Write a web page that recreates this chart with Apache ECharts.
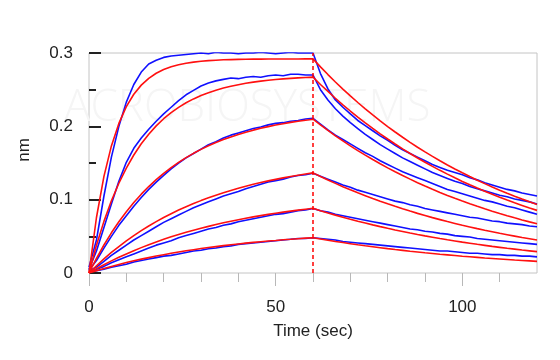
<!DOCTYPE html>
<html><head><meta charset="utf-8">
<script src="https://cdn.jsdelivr.net/npm/echarts@6/dist/echarts.min.js"></script>
<style>html,body{margin:0;padding:0;background:#fff}#c{width:560px;height:360px}</style>
</head><body><div id="c"></div>
<script>
var times = [0,2,4,6,8,10,12,14,16,18,20,22,24,26,28,30,32,34,36,38,40,42,44,46,48,50,52,54,56,58,60,
62,64,66,68,70,72,74,76,78,80,82,84,86,88,90,92,94,96,98,100,102,104,106,108,110,112,114,116,118,120];
var xMajorTicks = [0,50,100];
var xMinorTicks = [10,20,30,40,60,70,80,90,110];
var yTicks = [0,0.1,0.2,0.3];
var dissociationStart = 60;

var blue1 = [0.008,0.045,0.105,0.158,0.200,0.233,0.257,0.274,0.285,0.290,0.294,0.296,0.297,0.298,0.299,0.300,0.299,0.301,0.300,0.300,0.299,0.300,0.300,0.301,0.300,0.299,0.300,0.301,0.300,0.300,0.300,
0.272,0.251,0.236,0.226,0.217,0.208,0.201,0.194,0.187,0.181,0.174,0.168,0.163,0.158,0.153,0.148,0.144,0.140,0.137,0.134,0.130,0.127,0.123,0.120,0.117,0.114,0.112,0.109,0.107,0.105];
var red1 = [0,0.0757,0.1318,0.1733,0.2040,0.2268,0.2437,0.2562,0.2655,0.2724,0.2775,0.2812,0.2840,0.2861,0.2876,0.2888,0.2896,0.2902,0.2907,0.2910,0.2913,0.2915,0.2916,0.2917,0.2918,0.2918,0.2919,0.2919,0.2919,0.2920,0.2920,
0.2811,0.2706,0.2605,0.2508,0.2415,0.2325,0.2238,0.2155,0.2074,0.1997,0.1923,0.1851,0.1782,0.1715,0.1651,0.1590,0.1530,0.1473,0.1419,0.1366,0.1315,0.1266,0.1219,0.1173,0.1129,0.1087,0.1047,0.1008,0.0970,0.0934];
var blue2 = [0.005,0.030,0.062,0.094,0.125,0.151,0.170,0.184,0.196,0.207,0.217,0.226,0.235,0.243,0.249,0.255,0.259,0.262,0.264,0.266,0.265,0.267,0.268,0.267,0.269,0.270,0.269,0.271,0.271,0.270,0.270,
0.250,0.236,0.224,0.214,0.205,0.197,0.189,0.182,0.175,0.169,0.163,0.157,0.152,0.147,0.142,0.137,0.133,0.129,0.125,0.122,0.118,0.115,0.112,0.109,0.106,0.104,0.101,0.099,0.097,0.094];
var red2 = [0,0.0379,0.0704,0.0984,0.1224,0.1431,0.1609,0.1762,0.1893,0.2006,0.2104,0.2187,0.2259,0.2321,0.2374,0.2420,0.2459,0.2493,0.2522,0.2547,0.2568,0.2587,0.2603,0.2616,0.2628,0.2638,0.2647,0.2654,0.2661,0.2666,0.2671,
0.2571,0.2476,0.2383,0.2294,0.2209,0.2126,0.2047,0.1971,0.1897,0.1827,0.1759,0.1693,0.1630,0.1569,0.1510,0.1454,0.1400,0.1348,0.1298,0.1249,0.1203,0.1158,0.1115,0.1073,0.1033,0.0994,0.0957,0.0922,0.0887,0.0854];
var blue3 = [0.004,0.017,0.034,0.050,0.065,0.078,0.091,0.103,0.114,0.124,0.133,0.142,0.150,0.157,0.163,0.169,0.175,0.179,0.184,0.188,0.191,0.194,0.197,0.199,0.202,0.204,0.205,0.207,0.208,0.210,0.211,
0.203,0.195,0.188,0.182,0.176,0.170,0.164,0.159,0.153,0.148,0.143,0.138,0.134,0.130,0.126,0.122,0.118,0.114,0.111,0.108,0.105,0.102,0.099,0.097,0.094,0.091,0.089,0.086,0.083,0.080];
var red3 = [0,0.0200,0.0382,0.0548,0.0699,0.0836,0.0961,0.1075,0.1179,0.1273,0.1359,0.1437,0.1508,0.1573,0.1632,0.1686,0.1734,0.1779,0.1819,0.1856,0.1890,0.1920,0.1948,0.1973,0.1996,0.2017,0.2036,0.2054,0.2070,0.2084,0.2097,
0.2019,0.1944,0.1871,0.1801,0.1734,0.1669,0.1607,0.1547,0.1490,0.1434,0.1381,0.1329,0.1280,0.1232,0.1186,0.1142,0.1099,0.1058,0.1019,0.0981,0.0944,0.0909,0.0875,0.0842,0.0811,0.0781,0.0752,0.0724,0.0697,0.0671];
var blue4 = [0.003,0.008,0.016,0.024,0.031,0.038,0.045,0.051,0.057,0.063,0.069,0.074,0.079,0.084,0.089,0.093,0.097,0.101,0.105,0.108,0.111,0.115,0.118,0.121,0.124,0.126,0.128,0.131,0.133,0.134,0.136,
0.132,0.128,0.124,0.120,0.117,0.113,0.110,0.107,0.104,0.101,0.098,0.096,0.093,0.091,0.088,0.086,0.084,0.082,0.080,0.078,0.076,0.075,0.073,0.071,0.070,0.068,0.067,0.066,0.064,0.063];
var red4 = [0,0.0099,0.0192,0.0280,0.0361,0.0438,0.0510,0.0578,0.0641,0.0701,0.0756,0.0809,0.0858,0.0904,0.0947,0.0987,0.1025,0.1061,0.1094,0.1126,0.1155,0.1183,0.1209,0.1233,0.1256,0.1277,0.1297,0.1316,0.1333,0.1350,0.1365,
0.1315,0.1268,0.1222,0.1177,0.1134,0.1093,0.1054,0.1015,0.0978,0.0943,0.0909,0.0876,0.0844,0.0813,0.0784,0.0755,0.0728,0.0701,0.0676,0.0651,0.0628,0.0605,0.0583,0.0562,0.0541,0.0522,0.0503,0.0484,0.0467,0.0450];
var blue5 = [0.002,0.005,0.009,0.014,0.018,0.022,0.026,0.030,0.034,0.038,0.041,0.044,0.048,0.051,0.054,0.057,0.060,0.062,0.065,0.067,0.070,0.072,0.074,0.076,0.078,0.080,0.081,0.083,0.085,0.086,0.088,
0.085,0.083,0.080,0.078,0.076,0.074,0.072,0.070,0.068,0.066,0.064,0.062,0.060,0.059,0.057,0.056,0.054,0.053,0.051,0.050,0.049,0.047,0.046,0.045,0.044,0.043,0.042,0.041,0.040,0.039];
var red5 = [0,0.0058,0.0113,0.0165,0.0214,0.0260,0.0304,0.0346,0.0386,0.0423,0.0459,0.0493,0.0525,0.0555,0.0584,0.0611,0.0636,0.0661,0.0684,0.0706,0.0726,0.0746,0.0765,0.0782,0.0799,0.0815,0.0830,0.0844,0.0857,0.0870,0.0882,
0.0850,0.0819,0.0789,0.0761,0.0733,0.0706,0.0681,0.0656,0.0632,0.0609,0.0587,0.0566,0.0545,0.0525,0.0506,0.0488,0.0470,0.0453,0.0437,0.0421,0.0406,0.0391,0.0377,0.0363,0.0350,0.0337,0.0325,0.0313,0.0302,0.0291];
var blue6 = [0.002,0.003,0.005,0.008,0.010,0.012,0.015,0.017,0.019,0.021,0.023,0.024,0.026,0.028,0.030,0.031,0.033,0.034,0.036,0.037,0.039,0.040,0.041,0.042,0.043,0.044,0.045,0.046,0.047,0.047,0.048,
0.047,0.046,0.045,0.043,0.042,0.041,0.040,0.039,0.038,0.037,0.036,0.035,0.034,0.033,0.032,0.031,0.030,0.030,0.029,0.028,0.027,0.027,0.026,0.025,0.025,0.024,0.024,0.023,0.023,0.022];
var red6 = [0,0.0032,0.0061,0.0090,0.0117,0.0142,0.0166,0.0189,0.0210,0.0231,0.0250,0.0269,0.0286,0.0303,0.0318,0.0333,0.0347,0.0360,0.0373,0.0385,0.0396,0.0407,0.0417,0.0427,0.0436,0.0444,0.0453,0.0460,0.0468,0.0475,0.0481,
0.0464,0.0447,0.0430,0.0415,0.0400,0.0385,0.0371,0.0358,0.0345,0.0332,0.0320,0.0309,0.0297,0.0287,0.0276,0.0266,0.0256,0.0247,0.0238,0.0229,0.0221,0.0213,0.0205,0.0198,0.0191,0.0184,0.0177,0.0171,0.0165,0.0159];

var blueSets = [blue1, blue2, blue3, blue4, blue5, blue6];
var redSets = [red1, red2, red3, red4, red5, red6];

function pairs(vals){ return times.map(function(t,i){ return [t, vals[i]]; }); }

var FONT = '"Liberation Sans", Arial, sans-serif';
var series = [];
blueSets.forEach(function(v){
  series.push({type:'line', xAxisIndex:0, yAxisIndex:0, data:pairs(v), showSymbol:false, symbol:'none',
    lineStyle:{color:'#1010ff', width:1.6}, z:3});
});
redSets.forEach(function(v){
  series.push({type:'line', xAxisIndex:0, yAxisIndex:0, data:pairs(v), showSymbol:false, symbol:'none',
    lineStyle:{color:'#ff1010', width:1.6}, z:4});
});
series.push({type:'line', xAxisIndex:0, yAxisIndex:0, data:[], z:5,
  markLine:{silent:true, symbol:['none','none'], label:{show:false}, animation:false,
    emphasis:{disabled:true},
    lineStyle:{color:'#ff0000', type:[4,3], width:1.5, opacity:1}, data:[{xAxis:dissociationStart}]}});

var chart = echarts.init(document.getElementById('c'), null, {renderer:'canvas'});
chart.setOption({
  animation:false,
  backgroundColor:'#ffffff',
  grid:{left:89, right:23, top:53, bottom:87, show:true, borderColor:'#c4c4c4', borderWidth:1, backgroundColor:'transparent'},
  graphic:[
    {type:'text', left:64, top:86, z:0, silent:true,
      style:{text:'ACROBIOSYSTEMS', fill:'#f5f5f5', font:'300 44px "Open Sans", sans-serif'}},
    {type:'text', x:24, y:150, rotation:Math.PI/2, silent:true,
      style:{text:'nm', fill:'#222', font:'17px ' + FONT, textAlign:'center', textVerticalAlign:'middle'}},
    {type:'text', x:313, y:331, silent:true,
      style:{text:'Time (sec)', fill:'#222', font:'17px ' + FONT, textAlign:'center', textVerticalAlign:'middle'}}
  ],
  xAxis:[
    {type:'value', min:0, max:120, position:'bottom',
      axisLine:{show:false}, splitLine:{show:false},
      axisTick:{show:true, length:13, inside:false, customValues:xMajorTicks, lineStyle:{color:'#b8b8b8', width:1}},
      axisLabel:{show:true, customValues:xMajorTicks, margin:26, color:'#222', fontSize:17, fontFamily:FONT}},
    {type:'value', min:0, max:120, position:'bottom', gridIndex:0,
      axisLine:{show:false}, splitLine:{show:false},
      axisTick:{show:true, length:9, inside:false, customValues:xMinorTicks, lineStyle:{color:'#b8b8b8', width:1}},
      axisLabel:{show:false}}
  ],
  yAxis:{type:'value', min:0, max:0.3, interval:0.1,
    axisLine:{show:false}, splitLine:{show:false},
    axisTick:{show:true, inside:true, length:12, lineStyle:{color:'#222', width:2}},
    minorTick:{show:true, splitNumber:2, length:7, lineStyle:{color:'#222', width:2}},
    axisLabel:{margin:16, color:'#222', fontSize:17, fontFamily:FONT, customValues:yTicks,
      formatter:function(v){ return String(Math.round(v*10)/10); }}},
  series:series
});
</script></body></html>
